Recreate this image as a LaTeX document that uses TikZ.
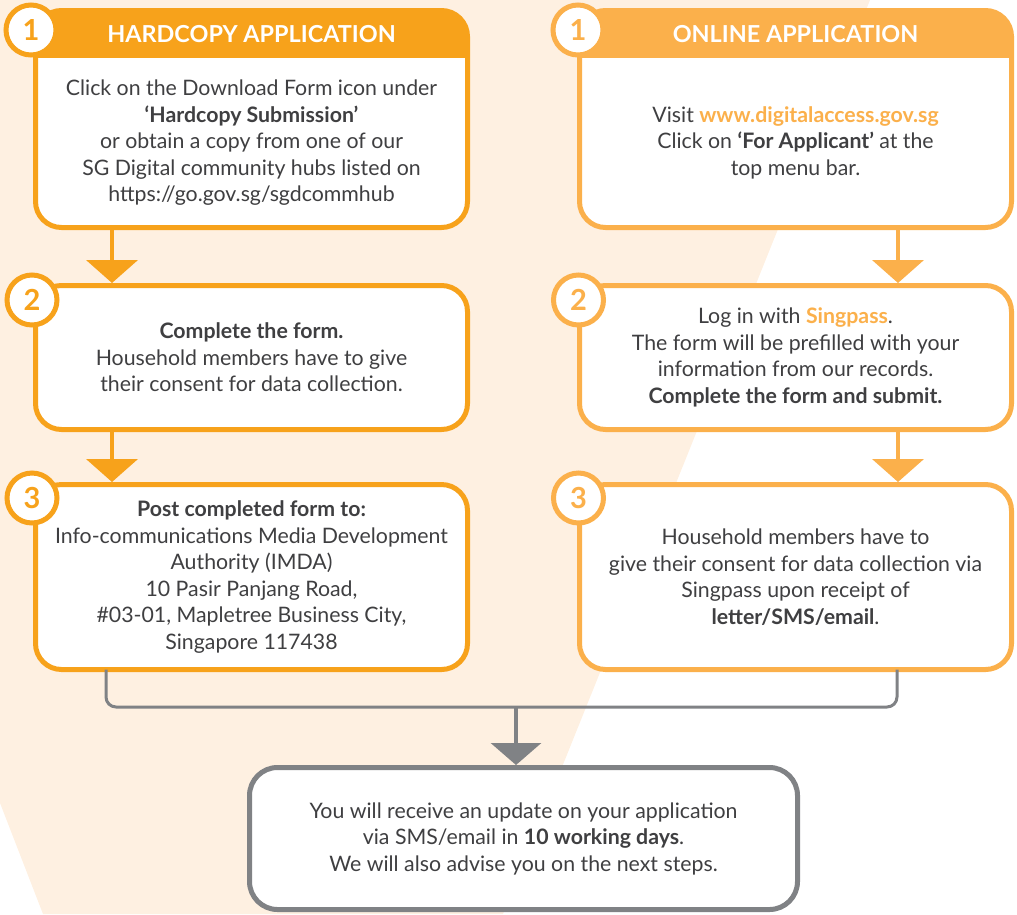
\documentclass[tikz,border=0pt]{standalone}
\usepackage{fontspec}
\setmainfont{Lato}
\definecolor{HardOrange}{HTML}{F7A21B}
\definecolor{WebOrange}{HTML}{FBB04B}
\definecolor{Cream}{HTML}{FEF0E1}
\definecolor{Slate}{HTML}{808285}
\definecolor{Ink}{HTML}{3F3F41}
\usetikzlibrary{arrows.meta,positioning,calc}

\begin{document}
\begin{tikzpicture}[x=1pt,y=-1pt,
  bodytxt/.style={align=center,text=Ink,font=\fontsize{21.3}{26.5}\selectfont},
  card/.style={draw=#1,line width=5pt,fill=white,rounded corners=26pt,minimum width=432pt,outer sep=0pt,inner sep=0pt,bodytxt},
  headband/.style={path picture={\fill[#1,sharp corners] (path picture bounding box.north west) rectangle ([yshift=-47.5pt]path picture bounding box.north east);}},
  headtxt/.style={text=white,font=\fontsize{23.4}{26}\selectfont\bfseries},
  numdot/.style={circle,draw=#1,text=#1,line width=5pt,fill=white,minimum size=50pt,inner sep=0pt,font=\fontsize{29}{29}\selectfont\bfseries},
  arr/.style={line width=4.5pt,-{Triangle[width=51pt,length=23pt]}},
  merge/.style={Slate,line width=3pt,rounded corners=10pt}
]
  \useasboundingbox (0,0) rectangle (1017,914);
  \fill[Cream] (0,0) -- (870,0) -- (503,914) -- (43,914) -- (0,803) -- cycle;

  % hardcopy column
  \node[card=HardOrange,headband=HardOrange,minimum height=217pt] (h1) at (251.5,119) {};
  \node[headtxt] (h1t) at ([yshift=-23.5pt]h1.north) {HARDCOPY APPLICATION};
  \node[bodytxt] (h1b) at ($(h1.south)!0.5!([yshift=-47.5pt]h1.north)$) {Click on the Download Form icon under\\
  \textbf{‘Hardcopy Submission’}\\or obtain a copy from one of our\\SG Digital community hubs listed on\\https://go.gov.sg/sgdcommhub};
  \node[card=HardOrange,minimum height=144pt,below=58pt of h1] (h2) {\textbf{Complete the form.}\\
  Household members have to give\\their consent for data collection.};
  \node[card=HardOrange,minimum height=185pt,below=55pt of h2] (h3) {\textbf{Post completed form to:}\\
  Info-communications Media Development\\Authority (IMDA)\\10 Pasir Panjang Road,\\\#03-01, Mapletree Business City,\\Singapore 117438};

  % online column
  \node[card=WebOrange,headband=WebOrange,minimum height=217pt,right=112pt of h1] (o1) {};
  \node[headtxt] (o1t) at ([yshift=-23.5pt]o1.north) {ONLINE APPLICATION};
  \node[bodytxt] (o1b) at ($(o1.south)!0.5!([yshift=-47.5pt]o1.north)$) {Visit \textcolor{WebOrange}{\textbf{www.digitalaccess.gov.sg}}\\
  Click on \textbf{‘For Applicant’} at the\\top menu bar.};
  \node[card=WebOrange,minimum height=144pt,below=58pt of o1] (o2) {Log in with \textcolor{WebOrange}{\textbf{Singpass}}.\\
  The form will be prefilled with your\\information from our records.\\\textbf{Complete the form and submit.}};
  \node[card=WebOrange,minimum height=185pt,below=55pt of o2] (o3) {Household members have to\\
  give their consent for data collection via\\Singpass upon receipt of\\\textbf{letter/SMS/email}.};

  % result
  \node[card=Slate,minimum width=548pt,minimum height=142pt,rounded corners=28pt] (done) at (523.5,838.5) {You will receive an update on your application\\
  via SMS/email in \textbf{10 working days}.\\We will also advise you on the next steps.};

  % step numbers
  \foreach \b/\n/\c/\dx/\dy in {h1/1/HardOrange/-4.5/19.5,h2/2/HardOrange/-3.5/14.5,h3/3/HardOrange/-3.5/13.5,
    o1/1/WebOrange/-1.5/19.5,o2/2/WebOrange/-1/14.5,o3/3/WebOrange/-1/13.5}
    \node[numdot=\c] (\b n) at ([shift={(\dx,\dy)}]\b.north west) {\n};

  \draw[arr,HardOrange] ([xshift=76.5pt]h1.south west) -- ([xshift=76.5pt,yshift=2.5pt]h2.north west);
  \draw[arr,HardOrange] ([xshift=76.5pt]h2.south west) -- ([xshift=76.5pt,yshift=2.5pt]h3.north west);
  \draw[arr,WebOrange] ([xshift=-113.5pt]o1.south east) -- ([xshift=-113.5pt,yshift=2.5pt]o2.north east);
  \draw[arr,WebOrange] ([xshift=-113.5pt]o2.south east) -- ([xshift=-113.5pt,yshift=2.5pt]o3.north east);

  \coordinate (join) at (516,707);
  \draw[merge] ([xshift=70.5pt]h3.south west) |- (join) -| ([xshift=-114.5pt]o3.south east);
  \draw[Slate,line width=3.5pt,-{Triangle[width=50pt,length=22pt]}] (join) -- ([yshift=2.5pt]done.north -| join);
\end{tikzpicture}
\end{document}
